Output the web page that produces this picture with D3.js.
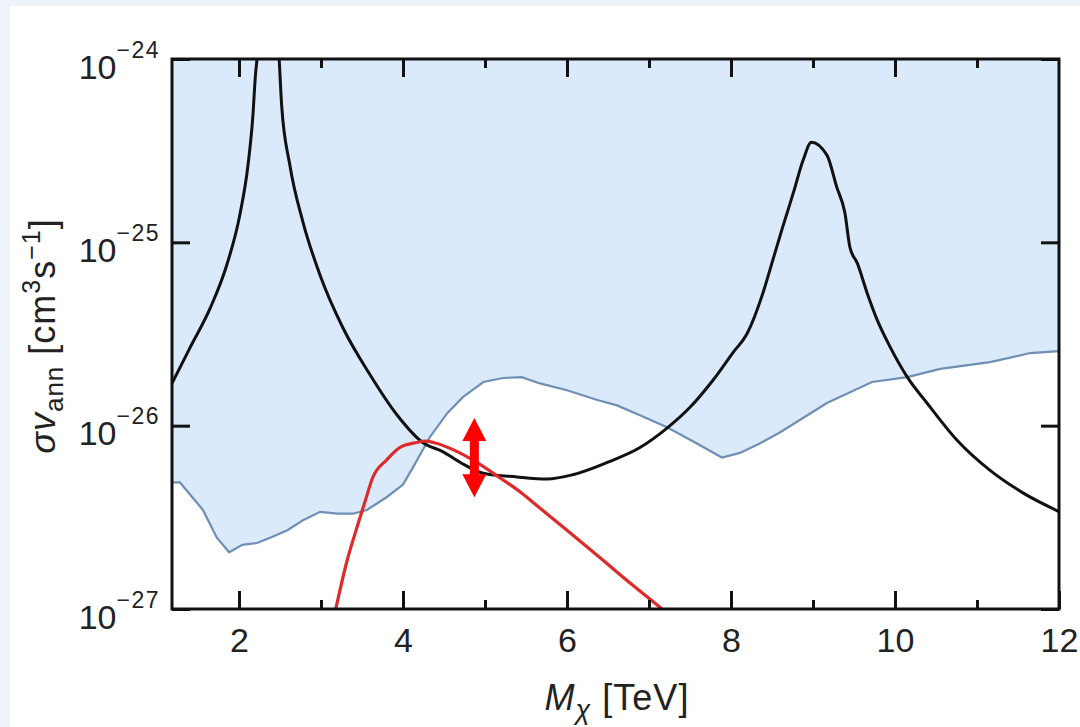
<!DOCTYPE html>
<html>
<head>
<meta charset="utf-8">
<script src="https://cdn.jsdelivr.net/npm/d3@7"></script>
<style>
  html, body { margin: 0; padding: 0; background: #edf3f9; }
  svg { display: block; font-family: "Liberation Sans", Arial, sans-serif; }
</style>
</head>
<body>
<div id="chart"></div>
<script>
// sensitivity band (shaded above this line)
var bandMass = [1.18, 1.28, 1.56, 1.73, 1.88, 2.04, 2.22, 2.38, 2.59, 2.78, 2.99, 3.20, 3.39, 3.56, 3.80, 4.00, 4.12, 4.33, 4.54, 4.73, 4.98, 5.22, 5.45, 5.67, 6.00, 6.37, 6.61, 6.89, 7.22, 7.54, 7.89, 8.11, 8.35, 8.60, 9.17, 9.72, 10.15, 10.55, 11.16, 11.65, 12.0];
var bandSigma = [4.9e-27, 4.9e-27, 3.47e-27, 2.45e-27, 2.04e-27, 2.24e-27, 2.29e-27, 2.45e-27, 2.69e-27, 3.05e-27, 3.39e-27, 3.31e-27, 3.31e-27, 3.47e-27, 4.07e-27, 4.77e-27, 5.9e-27, 8.7e-27, 1.17e-26, 1.43e-26, 1.73e-26, 1.82e-26, 1.84e-26, 1.70e-26, 1.56e-26, 1.38e-26, 1.29e-26, 1.14e-26, 9.8e-27, 8.2e-27, 6.7e-27, 7.1e-27, 8.0e-27, 9.2e-27, 1.33e-26, 1.73e-26, 1.84e-26, 2.04e-26, 2.22e-26, 2.49e-26, 2.55e-26];

// theory cross section (black)
var theoryMass = [1.18, 1.40, 1.65, 1.85, 2.01, 2.11, 2.17, 2.20, 2.22, 2.36, 2.49, 2.52, 2.62, 2.78, 2.99, 3.27, 3.60, 3.93, 4.24, 4.49, 4.70, 4.98, 5.39, 5.76, 6.07, 6.49, 6.89, 7.22, 7.50, 7.78, 8.02, 8.20, 8.39, 8.51, 8.63, 8.76, 8.88, 8.98, 9.17, 9.29, 9.39, 9.45, 9.54, 9.66, 9.78, 9.94, 10.15, 10.39, 10.76, 11.16, 11.56, 12.0];
var theorySigma = [1.69e-26, 2.65e-26, 4.39e-26, 7.5e-26, 1.41e-25, 2.64e-25, 4.94e-25, 8.1e-25, 1.0e-24, 6.3e-24, 1.0e-24, 5.6e-25, 2.64e-25, 1.29e-25, 6.6e-26, 3.4e-26, 1.89e-26, 1.14e-26, 8.1e-27, 7.2e-27, 6.3e-27, 5.5e-27, 5.25e-27, 5.12e-27, 5.4e-27, 6.3e-27, 7.6e-27, 9.7e-27, 1.26e-26, 1.77e-26, 2.49e-26, 3.2e-26, 5.3e-26, 8.0e-26, 1.21e-25, 1.86e-25, 2.81e-25, 3.52e-25, 2.99e-25, 2.0e-25, 1.44e-25, 9.4e-26, 7.7e-26, 5.3e-26, 3.8e-26, 2.69e-26, 1.84e-26, 1.33e-26, 8.3e-27, 5.7e-27, 4.3e-27, 3.4e-27];

// red curve
var redMass = [3.18, 3.32, 3.44, 3.54, 3.63, 3.80, 3.96, 4.17, 4.27, 4.37, 4.61, 4.90, 5.18, 5.43, 5.59, 6.00, 6.40, 6.80, 7.16];
var redSigma = [1.0e-27, 1.85e-27, 2.8e-27, 3.9e-27, 5.2e-27, 6.5e-27, 7.6e-27, 8.1e-27, 8.25e-27, 8.1e-27, 7.4e-27, 6.3e-27, 5.2e-27, 4.35e-27, 3.8e-27, 2.69e-27, 1.91e-27, 1.35e-27, 1.0e-27];

// double arrow
var arrowMass = 4.87;
var arrowSigma = [1.10e-26, 4.07e-27];

var xMajorTicks = [2, 4, 6, 8, 10, 12];
var xMinorTicks = [3, 5, 7, 9, 11];
var yTicks = [1e-27, 1e-26, 1e-25, 1e-24];
var yTickExp = ["\u221227", "\u221226", "\u221225", "\u221224"];

var width = 1080, height = 727;
var margin = {left: 172, top: 59, right: 21, bottom: 118};
var pw = width - margin.left - margin.right;
var ph = height - margin.top - margin.bottom;

var svg = d3.select("#chart").append("svg")
    .attr("width", width)
    .attr("height", height);

svg.append("rect").attr("x", 10).attr("y", 6)
    .attr("width", width - 10).attr("height", height - 6)
    .attr("fill", "#ffffff");

var x = d3.scaleLinear().domain([1.183, 12]).range([0, pw]);
var y = d3.scaleLog().domain([1e-27, 1e-24]).range([ph, 0]);

var g = svg.append("g").attr("transform", "translate(" + margin.left + "," + margin.top + ")");

g.append("clipPath").attr("id", "clip")
  .append("rect").attr("width", pw).attr("height", ph);

var plot = g.append("g").attr("clip-path", "url(#clip)");

var band = bandMass.map(function(m, i) { return {m: m, s: bandSigma[i]}; });
var theory = theoryMass.map(function(m, i) { return {m: m, s: theorySigma[i]}; });
var red = redMass.map(function(m, i) { return {m: m, s: redSigma[i]}; });

// shaded region
plot.append("path")
    .datum(band)
    .attr("fill", "#dbeafa")
    .attr("d", d3.area()
        .x(function(d) { return x(d.m); })
        .y0(0)
        .y1(function(d) { return y(d.s); }));

var line = d3.line()
    .x(function(d) { return x(d.m); })
    .y(function(d) { return y(d.s); });

var smooth = d3.line()
    .curve(d3.curveMonotoneX)
    .x(function(d) { return x(d.m); })
    .y(function(d) { return y(d.s); });

plot.append("path").datum(band)
    .attr("fill", "none").attr("stroke", "#6f8fb4").attr("stroke-width", 2.2)
    .attr("d", line);

plot.append("path").datum(theory)
    .attr("fill", "none").attr("stroke", "#111111").attr("stroke-width", 3)
    .attr("stroke-linejoin", "round")
    .attr("d", smooth);

plot.append("path").datum(red)
    .attr("fill", "none").attr("stroke", "#de2a2a").attr("stroke-width", 3.2)
    .attr("stroke-linejoin", "round")
    .attr("d", smooth);

// red double arrow
var ax = x(arrowMass), ay0 = y(arrowSigma[0]), ay1 = y(arrowSigma[1]);
var head = 23, hw = 12, sw = 4.5;
g.append("path")
    .attr("fill", "#ff0000")
    .attr("d", "M" + ax + "," + ay0 +
        "L" + (ax + hw) + "," + (ay0 + head) +
        "L" + (ax + sw) + "," + (ay0 + head) +
        "L" + (ax + sw) + "," + (ay1 - head) +
        "L" + (ax + hw) + "," + (ay1 - head) +
        "L" + ax + "," + ay1 +
        "L" + (ax - hw) + "," + (ay1 - head) +
        "L" + (ax - sw) + "," + (ay1 - head) +
        "L" + (ax - sw) + "," + (ay0 + head) +
        "L" + (ax - hw) + "," + (ay0 + head) + "Z");

// axes
function styleAxis(sel) {
  sel.select(".domain").remove();
  sel.selectAll(".tick line").attr("stroke", "#111").attr("stroke-width", 3);
  sel.selectAll(".tick text").attr("fill", "#222").style("font-size", "34px");
}

g.append("g").attr("transform", "translate(0," + ph + ")")
    .call(d3.axisBottom(x).tickValues(xMajorTicks).tickSizeInner(-18).tickSizeOuter(0).tickPadding(19))
    .call(styleAxis);
g.append("g").attr("transform", "translate(0," + ph + ")")
    .call(d3.axisBottom(x).tickValues(xMinorTicks).tickSizeInner(-9).tickSizeOuter(0).tickFormat(""))
    .call(styleAxis);
g.append("g")
    .call(d3.axisTop(x).tickValues(xMajorTicks.slice(0, -1)).tickSizeInner(-18).tickSizeOuter(0).tickFormat(""))
    .call(styleAxis);
g.append("g")
    .call(d3.axisTop(x).tickValues(xMinorTicks).tickSizeInner(-9).tickSizeOuter(0).tickFormat(""))
    .call(styleAxis);

var yAxisG = g.append("g")
    .call(d3.axisLeft(y).tickValues(yTicks).tickSizeInner(-18).tickSizeOuter(0).tickFormat(""))
    .call(styleAxis);
g.append("g").attr("transform", "translate(" + pw + ",0)")
    .call(d3.axisRight(y).tickValues(yTicks).tickSizeInner(-18).tickSizeOuter(0).tickFormat(""))
    .call(styleAxis);

yAxisG.selectAll(".tick").each(function(d) {
  var t = d3.select(this).select("text")
      .attr("x", -12).attr("y", 19).attr("dy", null)
      .attr("text-anchor", "end")
      .style("font-size", "34px");
  t.text(null);
  t.append("tspan").text("10");
  t.append("tspan").attr("dy", -21).style("font-size", "23px").style("letter-spacing", "1.5px")
      .text(yTickExp[yTicks.indexOf(d)]);
});

// frame
g.append("rect")
    .attr("width", pw).attr("height", ph)
    .attr("fill", "none").attr("stroke", "#111").attr("stroke-width", 3);

// axis titles
var xt = svg.append("text")
    .attr("x", 617).attr("y", 710)
    .attr("text-anchor", "middle")
    .attr("fill", "#222").style("font-size", "36px").style("letter-spacing", "1px");
xt.append("tspan").style("font-style", "italic").text("M");
xt.append("tspan").attr("dy", 9).style("font-style", "italic").style("font-size", "27px").text("\u03c7");
xt.append("tspan").attr("dy", -9).text(" [TeV]");

var yt = svg.append("text")
    .attr("transform", "translate(55,336) rotate(-90)")
    .attr("text-anchor", "middle")
    .attr("fill", "#222").style("font-size", "36px").style("letter-spacing", "1px");
yt.append("tspan").style("font-style", "italic").text("\u03c3v");
yt.append("tspan").attr("dy", 8).style("font-size", "26px").text("ann");
yt.append("tspan").attr("dy", -8).text(" [cm");
yt.append("tspan").attr("dy", -15).style("font-size", "25px").text("3");
yt.append("tspan").attr("dy", 15).text("s");
yt.append("tspan").attr("dy", -15).style("font-size", "25px").text("\u22121");
yt.append("tspan").attr("dy", 15).text("]");
</script>
</body>
</html>
